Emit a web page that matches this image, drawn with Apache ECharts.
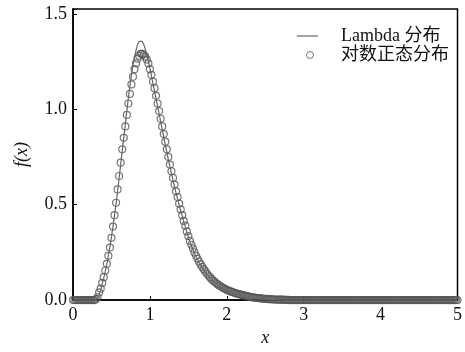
<!DOCTYPE html>
<html>
<head>
<meta charset="utf-8">
<script src="https://cdn.jsdelivr.net/npm/echarts@6/dist/echarts.min.js"></script>
<style>
  html, body { margin: 0; padding: 0; background: #fff; }
  #chart { width: 465px; height: 352px; }
</style>
</head>
<body>
<div id="chart"></div>
<script>
  // 采样间隔：x 从 0 到 5，每 0.02 一个点
  const step = 0.02

  // Lambda 分布 (实线)，每行 10 个点 = 0.2
  const lambdaY = [
    0, 0, 0, 0, 0, 0, 0, 0, 0, 0, // 0.00
    0, 0, 0, 0, 0, 0, 0.01, 0.03, 0.055, 0.085, // 0.20
    0.115, 0.15, 0.19, 0.235, 0.28, 0.33, 0.385, 0.445, 0.505, 0.57, // 0.40
    0.64, 0.71, 0.78, 0.85, 0.92, 0.99, 1.06, 1.12, 1.18, 1.23, // 0.60
    1.275, 1.31, 1.34, 1.355, 1.36, 1.355, 1.34, 1.315, 1.285, 1.25, // 0.80
    1.215, 1.175, 1.135, 1.095, 1.055, 1.015, 0.975, 0.935, 0.895, 0.855, // 1.00
    0.815, 0.775, 0.735, 0.7, 0.665, 0.63, 0.595, 0.56, 0.53, 0.5, // 1.20
    0.47, 0.44, 0.41, 0.385, 0.355, 0.33, 0.305, 0.285, 0.265, 0.245, // 1.40
    0.228, 0.212, 0.197, 0.183, 0.17, 0.158, 0.147, 0.136, 0.126, 0.117, // 1.60
    0.108, 0.1, 0.093, 0.086, 0.08, 0.074, 0.069, 0.064, 0.059, 0.055, // 1.80
    0.051, 0.047, 0.044, 0.041, 0.038, 0.035, 0.032, 0.03, 0.028, 0.026, // 2.00
    0.024, 0.022, 0.02, 0.018, 0.016, 0.015, 0.013, 0.012, 0.011, 0.01, // 2.20
    0.009, 0.008, 0.007, 0.006, 0.005, 0.005, 0.004, 0.003, 0.003, 0.002, // 2.40
    0.002, 0.002, 0.001, 0.001, 0.001, 0, 0, 0, 0, 0, // 2.60
    0, 0, 0, 0, 0, 0, 0, 0, 0, 0, // 2.80
    0, 0, 0, 0, 0, 0, 0, 0, 0, 0, // 3.00
    0, 0, 0, 0, 0, 0, 0, 0, 0, 0, // 3.20
    0, 0, 0, 0, 0, 0, 0, 0, 0, 0, // 3.40
    0, 0, 0, 0, 0, 0, 0, 0, 0, 0, // 3.60
    0, 0, 0, 0, 0, 0, 0, 0, 0, 0, // 3.80
    0, 0, 0, 0, 0, 0, 0, 0, 0, 0, // 4.00
    0, 0, 0, 0, 0, 0, 0, 0, 0, 0, // 4.20
    0, 0, 0, 0, 0, 0, 0, 0, 0, 0, // 4.40
    0, 0, 0, 0, 0, 0, 0, 0, 0, 0, // 4.60
    0, 0, 0, 0, 0, 0, 0, 0, 0, 0, // 4.80
    0 // 5.00
  ]

  // 对数正态分布 (空心圆)
  const lognY = [
    0, 0, 0, 0, 0, 0, 0, 0, 0, 0, // 0.00
    0, 0, 0, 0, 0, 0.005, 0.015, 0.04, 0.06, 0.09, // 0.20
    0.12, 0.155, 0.19, 0.232, 0.275, 0.326, 0.385, 0.445, 0.51, 0.58, // 0.40
    0.65, 0.72, 0.79, 0.85, 0.91, 0.97, 1.03, 1.08, 1.13, 1.17, // 0.60
    1.21, 1.24, 1.265, 1.28, 1.29, 1.29, 1.285, 1.275, 1.26, 1.24, // 0.80
    1.21, 1.18, 1.145, 1.11, 1.07, 1.03, 0.99, 0.95, 0.91, 0.87, // 1.00
    0.83, 0.79, 0.75, 0.71, 0.675, 0.64, 0.605, 0.57, 0.54, 0.505, // 1.20
    0.475, 0.445, 0.415, 0.39, 0.36, 0.335, 0.31, 0.29, 0.27, 0.25, // 1.40
    0.232, 0.216, 0.201, 0.187, 0.174, 0.162, 0.15, 0.139, 0.129, 0.12, // 1.60
    0.111, 0.103, 0.096, 0.089, 0.083, 0.077, 0.072, 0.067, 0.062, 0.058, // 1.80
    0.054, 0.05, 0.047, 0.044, 0.041, 0.038, 0.035, 0.033, 0.031, 0.029, // 2.00
    0.027, 0.025, 0.023, 0.021, 0.019, 0.017, 0.016, 0.014, 0.013, 0.012, // 2.20
    0.011, 0.01, 0.009, 0.008, 0.007, 0.007, 0.006, 0.005, 0.005, 0.004, // 2.40
    0.004, 0.003, 0.003, 0.003, 0.002, 0.002, 0.002, 0.002, 0.001, 0.001, // 2.60
    0.001, 0, 0, 0, 0, 0, 0, 0, 0, 0, // 2.80
    0, 0, 0, 0, 0, 0, 0, 0, 0, 0, // 3.00
    0, 0, 0, 0, 0, 0, 0, 0, 0, 0, // 3.20
    0, 0, 0, 0, 0, 0, 0, 0, 0, 0, // 3.40
    0, 0, 0, 0, 0, 0, 0, 0, 0, 0, // 3.60
    0, 0, 0, 0, 0, 0, 0, 0, 0, 0, // 3.80
    0, 0, 0, 0, 0, 0, 0, 0, 0, 0, // 4.00
    0, 0, 0, 0, 0, 0, 0, 0, 0, 0, // 4.20
    0, 0, 0, 0, 0, 0, 0, 0, 0, 0, // 4.40
    0, 0, 0, 0, 0, 0, 0, 0, 0, 0, // 4.60
    0, 0, 0, 0, 0, 0, 0, 0, 0, 0, // 4.80
    0 // 5.00
  ]

  const seriesNames = ['Lambda 分布', '对数正态分布']

  const serif = "'Times New Roman', 'Liberation Serif', 'Noto Sans CJK SC', serif"
  const toPairs = arr => arr.map((v, i) => [+(i * step).toFixed(2), v])

  const chart = echarts.init(document.getElementById('chart'))
  const option = {
    animation: false,
    backgroundColor: '#fff',
    grid: {
      left: 73,
      right: -2,
      top: 9,
      bottom: 45,
      show: true,
      borderColor: '#000',
      borderWidth: 1.5,
      backgroundColor: 'transparent'
    },
    legend: [
      {
        data: [{ name: seriesNames[0], icon: 'rect' }],
        left: 297,
        top: 27,
        padding: 0,
        itemWidth: 21,
        itemHeight: 1.2,
        formatter: name => '    ' + name,
        itemStyle: { color: '#666' },
        textStyle: { fontFamily: serif, fontSize: 18, color: '#111' }
      },
      {
        data: [seriesNames[1]],
        left: 306,
        top: 46,
        padding: 0,
        itemWidth: 7,
        itemHeight: 7,
        formatter: name => '     ' + name,
        itemStyle: { color: 'transparent', borderColor: '#555', borderWidth: 1 },
        textStyle: { fontFamily: serif, fontSize: 18, color: '#111' }
      }
    ],
    xAxis: {
      type: 'value',
      min: 0,
      max: 5,
      interval: 1,
      name: 'x',
      nameLocation: 'middle',
      nameGap: 27,
      nameTextStyle: { fontFamily: serif, fontStyle: 'italic', fontSize: 18, color: '#111' },
      axisLine: { lineStyle: { color: '#000', width: 1.5 } },
      axisTick: { inside: true, length: 4, lineStyle: { color: '#000', width: 1 } },
      axisLabel: { margin: 6, fontFamily: serif, fontSize: 18, color: '#111' },
      splitLine: { show: false }
    },
    yAxis: {
      type: 'value',
      min: 0,
      max: 1.525,
      interval: 0.5,
      name: 'f(x)',
      nameLocation: 'middle',
      nameGap: 42,
      nameTextStyle: { fontFamily: serif, fontStyle: 'italic', fontSize: 18, color: '#111' },
      axisLine: { lineStyle: { color: '#000', width: 1.5 } },
      axisTick: { inside: true, length: 4, lineStyle: { color: '#000', width: 1 } },
      axisLabel: {
        margin: 6,
        fontFamily: serif,
        fontSize: 18,
        color: '#111',
        formatter: v => (Math.abs(v * 2 - Math.round(v * 2)) < 1e-6 ? v.toFixed(1) : '')
      },
      splitLine: { show: false }
    },
    series: [
      {
        name: seriesNames[0],
        type: 'line',
        symbol: 'none',
        data: toPairs(lambdaY),
        lineStyle: { color: '#666', width: 1.2 },
        itemStyle: { color: '#666' },
        z: 3
      },
      {
        name: seriesNames[1],
        type: 'scatter',
        symbol: 'circle',
        symbolSize: 7,
        data: toPairs(lognY),
        itemStyle: { color: 'transparent', borderColor: '#555', borderWidth: 1.2 },
        z: 2
      }
    ]
  }
  chart.setOption(option)
</script>
</body>
</html>
